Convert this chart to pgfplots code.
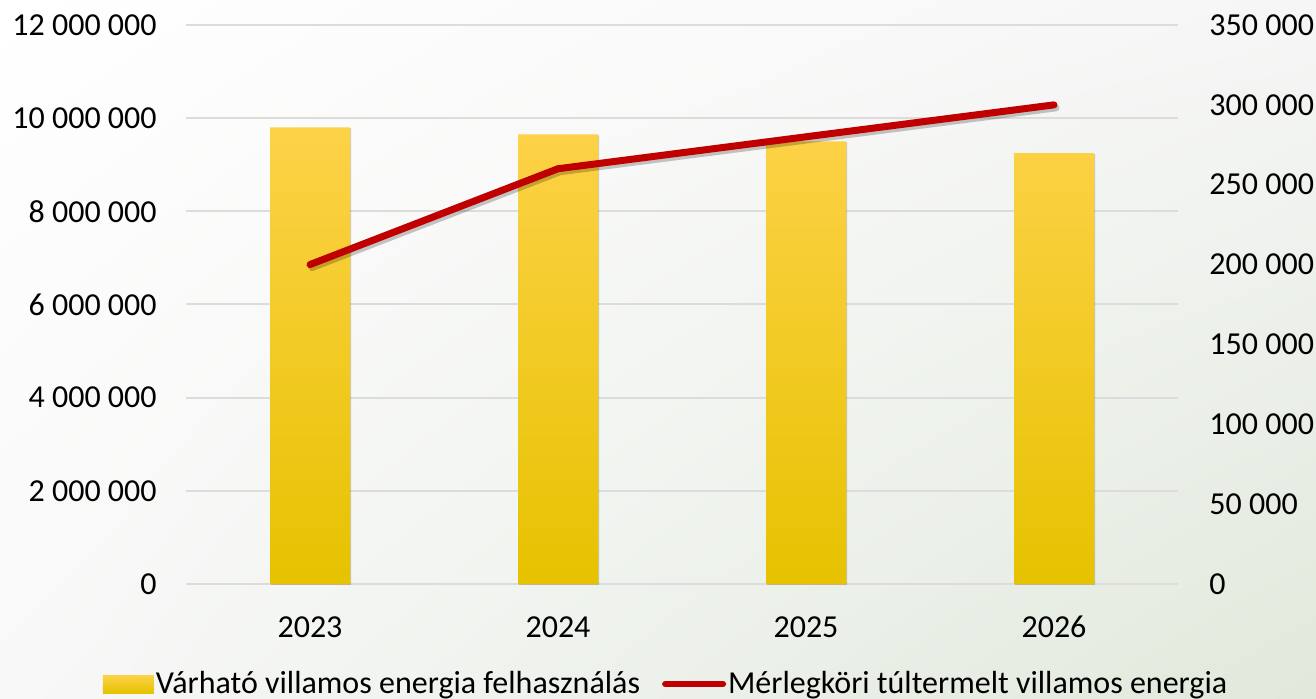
\documentclass[border=0pt]{standalone}
\usepackage{pgfplots}
\pgfplotsset{compat=1.18}
\usepackage{fontspec}
\setmainfont{Carlito}
\usetikzlibrary{shadows,shadings}

\definecolor{barTop}{RGB}{253,210,72}
\definecolor{barMid}{RGB}{255,214,0}
\definecolor{barBot}{RGB}{230,194,0}
\definecolor{lineRed}{RGB}{192,0,0}
\definecolor{gridGray}{RGB}{220,220,220}
\definecolor{bgUR}{RGB}{246,246,246}
\definecolor{bgLL}{RGB}{248,248,248}
\definecolor{bgLR}{RGB}{224,233,219}

\pgfplotstableread{
x y
0 9800000
1 9650000
2 9500000
3 9250000
}\bardata

\pgfplotstableread{
x y
0 200000
1 260000
2 280000
3 300000
}\linedata

\newcommand{\lblfont}{\fontsize{16bp}{19bp}\selectfont}

\begin{document}
\begin{tikzpicture}
\shade[upper left=white, upper right=bgUR, lower left=bgLL, lower right=bgLR] (0,0) rectangle (658bp,349.5bp);

\begin{axis}[
  at={(93bp,57.5bp)}, anchor=south west,
  scale only axis, width=496bp, height=279.5bp,
  xmin=-0.5, xmax=3.5, ymin=0, ymax=12000000,
  scaled y ticks=false,
  axis line style={draw=none},
  major tick length=0pt,
  ymajorgrids, grid style={gridGray, line width=1bp},
  xtick={0,1,2,3}, xticklabels={2023,2024,2025,2026},
  ytick={0,2000000,4000000,6000000,8000000,10000000,12000000},
  yticklabels={0,2 000 000,4 000 000,6 000 000,8 000 000,10 000 000,12 000 000},
  tick label style={font=\lblfont},
  yticklabel style={anchor=east, inner sep=0pt, xshift=-14.5bp},
  xticklabel style={anchor=base, inner sep=0pt, yshift=-26.5bp},
  clip=false,
]
\addplot[ybar, bar width=40bp, draw=none, top color=barTop, middle color=barMid, bottom color=barBot,
  drop shadow={shadow xshift=0.5bp, shadow yshift=-0.5bp, opacity=0.18, fill=black}]
  table[x=x, y=y] {\bardata};
\end{axis}

\begin{axis}[
  at={(93bp,57.5bp)}, anchor=south west,
  scale only axis, width=496bp, height=279.5bp,
  xmin=-0.5, xmax=3.5, ymin=0, ymax=350000,
  scaled y ticks=false,
  axis x line=none, axis y line*=right,
  axis line style={draw=none},
  major tick length=0pt,
  xtick=\empty,
  ytick={0,50000,100000,150000,200000,250000,300000,350000},
  yticklabels={0,50 000,100 000,150 000,200 000,250 000,300 000,350 000},
  tick label style={font=\lblfont},
  yticklabel style={anchor=west, inner sep=0pt, xshift=15.5bp},
  clip=false,
  legend columns=2,
  legend style={at={(-0.0837,-0.1789)}, anchor=west, draw=none, fill=none,
    font=\lblfont, inner sep=0pt, outer sep=0pt,
    nodes={inner sep=1bp},
    /tikz/every even column/.append style={column sep=10bp}},
]
\addlegendimage{legend image code/.code={\shade[draw=none, top color=barTop, middle color=barMid, bottom color=barBot] (0bp,-4.5bp) rectangle (25.5bp,4.5bp);}}
\addlegendentry{Várható villamos energia felhasználás}
\addplot[black, opacity=0.22, line width=3.5bp, line cap=round, line join=round, xshift=1bp, yshift=-1.5bp, forget plot]
  table[x=x, y=y] {\linedata};
\addplot[lineRed, line width=3.5bp, line cap=round, line join=round, mark=none,
  legend image code/.code={\draw[lineRed, line width=3bp, line cap=round] (0bp,0bp) -- (29bp,0bp);}]
  table[x=x, y=y] {\linedata};
\addlegendentry{Mérlegköri túltermelt villamos energia}
\end{axis}

\pgfresetboundingbox
\useasboundingbox (0,0) rectangle (658bp,349.5bp);
\end{tikzpicture}
\end{document}
